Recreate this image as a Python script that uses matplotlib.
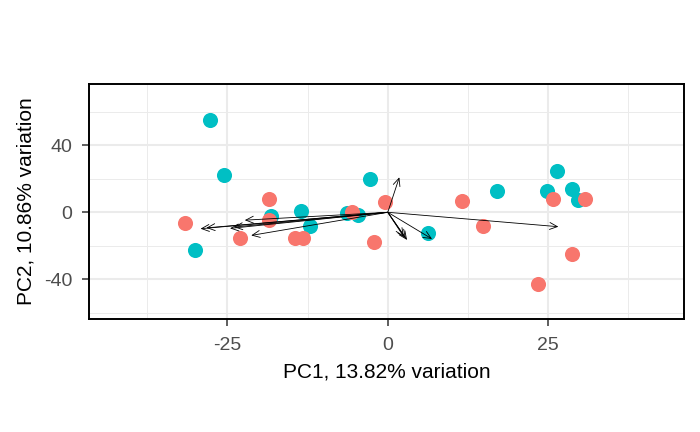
import matplotlib
matplotlib.use("Agg")
import matplotlib.pyplot as plt

# PCA scores, group coloured teal
teal_pc1 = [-27.8, -25.6, -2.7, -30.0, -18.2, -13.6, -12.2, -6.4, -4.6,
            26.4, 17.0, 24.8, 28.8, 29.7, 6.3]
teal_pc2 = [54.9, 22.1, 19.7, -22.7, -2.2, 0.8, -8.0, -0.7, -1.5,
            24.5, 12.5, 12.5, 13.7, 7.3, -12.6]

# PCA scores, group coloured salmon
red_pc1 = [-18.6, -0.4, -31.6, -23.0, -18.6, -14.5, -13.3, -5.6, -2.1,
           25.7, 30.8, 11.6, 14.8, 28.8, 23.4]
red_pc2 = [7.8, 6.0, -6.6, -15.5, -4.6, -15.4, -15.4, 0.2, -17.5,
           7.9, 7.9, 6.6, -8.2, -25.1, -43.0]

# loading arrows (tips)
load_pc1 = [-29.2, -28.3, -24.6, -24.0, -22.3, -21.3, 26.6, 1.8, 2.5, 3.0, 2.8, 6.9]
load_pc2 = [-9.8, -9.3, -9.6, -8.8, -4.7, -13.8, -8.6, 20.9, -14.6, -16.5, -15.5, -15.9]

x_label = "PC1, 13.82% variation"
y_label = "PC2, 10.86% variation"

plt.rcParams["font.family"] = ["Liberation Sans", "DejaVu Sans"]
plt.rcParams["axes.unicode_minus"] = False

fig = plt.figure(figsize=(7, 4.32), dpi=100)
ax = fig.add_axes([89 / 700, 113 / 432, 595 / 700, 235 / 432])

ax.set_xlim(-46.6, 46.2)
ax.set_ylim(-63.7, 76.6)

# ggplot-like grid
for v in [-37.5, -12.5, 12.5, 37.5]:
    ax.axvline(v, color="#EBEBEB", lw=0.7, zorder=0)
for v in [-25, 0, 25]:
    ax.axvline(v, color="#EBEBEB", lw=1.5, zorder=0)
for v in [-60, -20, 20, 60]:
    ax.axhline(v, color="#EBEBEB", lw=0.7, zorder=0)
for v in [-40, 0, 40]:
    ax.axhline(v, color="#EBEBEB", lw=1.5, zorder=0)

ax.scatter(teal_pc1, teal_pc2, s=118, color="#00BFC4", linewidths=0, zorder=2)
ax.scatter(red_pc1, red_pc2, s=118, color="#F8766D", linewidths=0, zorder=2)

for lx, ly in zip(load_pc1, load_pc2):
    ax.annotate("", xy=(lx, ly), xytext=(0, 0),
                arrowprops=dict(arrowstyle="->,head_length=0.55,head_width=0.25",
                                color="black", lw=0.6, shrinkA=0, shrinkB=0),
                zorder=3)

ax.set_xticks([-25, 0, 25])
ax.set_yticks([-40, 0, 40])
ax.tick_params(labelcolor="#4D4D4D", labelsize=14, length=5, width=1.1,
               color="#333333")
ax.tick_params(axis="x", pad=8)
ax.tick_params(axis="y", pad=7)

ax.set_xlabel(x_label, fontsize=15, color="black")
ax.set_ylabel(y_label, fontsize=15, color="black")
ax.xaxis.set_label_coords(0.5, (319 - 372) / 235)
ax.xaxis.label.set_va("center")
ax.yaxis.set_label_coords((26 - 89) / 595, 0.5)
ax.yaxis.label.set_va("center")

for s in ax.spines.values():
    s.set_linewidth(1.4)
    s.set_color("black")

fig.savefig("out.png", dpi=100)
